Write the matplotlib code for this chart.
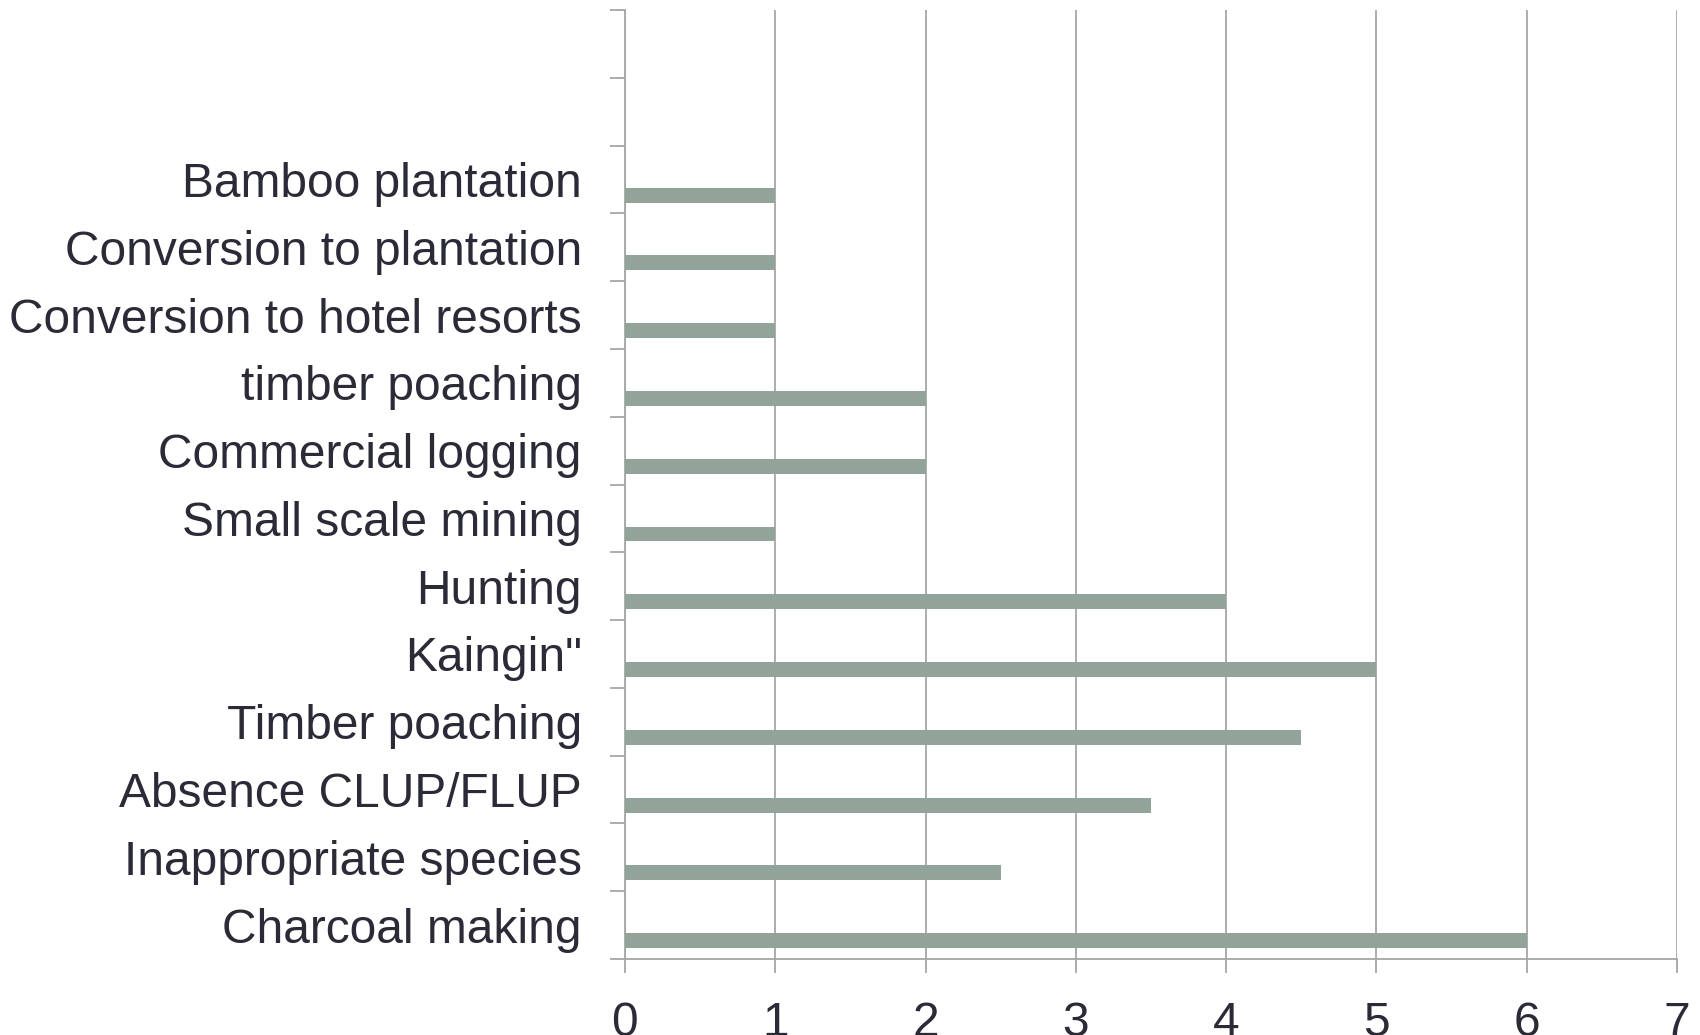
import matplotlib.pyplot as plt
import numpy as np

plt.rcParams['font.family'] = ['Liberation Sans', 'DejaVu Sans']

# bottom to top
categories = ["Charcoal making", "Inappropriate species", "Absence CLUP/FLUP",
              "Timber poaching", "Kaingin\"", "Hunting", "Small scale mining",
              "Commercial logging", "timber poaching", "Conversion to hotel resorts",
              "Conversion to plantation", "Bamboo plantation"]
values = [6, 2.5, 3.5, 4.5, 5, 4, 1, 2, 2, 1, 1, 1]
n_slots = 14  # two empty rows above the data

bar_col = "#92a399"
grid_col = "#a6a6a6"
text_col = "#2b2b38"

fig = plt.figure(figsize=(17, 10.35), dpi=100)
ax = fig.add_axes([0.3676, 0.0734, 0.6189, 0.9169])

centers = np.arange(len(categories)) + 0.5
ax.barh(centers - 0.23, values, height=0.22, color=bar_col, zorder=3)

ax.set_xlim(0, 7)
ax.set_ylim(0, n_slots)
ax.set_xticks(range(8))
ax.xaxis.grid(True, color=grid_col, linewidth=1.3, zorder=0)

ax.set_yticks(centers)
ax.set_yticklabels(categories)
ax.set_yticks(np.arange(n_slots + 1), minor=True)
ax.tick_params(axis='y', which='major', length=0, pad=31, labelsize=34.5, labelcolor=text_col)
ax.tick_params(axis='y', which='minor', length=10.5, width=1.3, color=grid_col)
ax.tick_params(axis='x', length=10, width=1.3, color=grid_col, pad=20, labelsize=34.5, labelcolor=text_col)

for side in ('top', 'right'):
    ax.spines[side].set_visible(False)
for side in ('left', 'bottom'):
    ax.spines[side].set_color(grid_col)
    ax.spines[side].set_linewidth(1.3)

fig.savefig("out.png", dpi=100)
